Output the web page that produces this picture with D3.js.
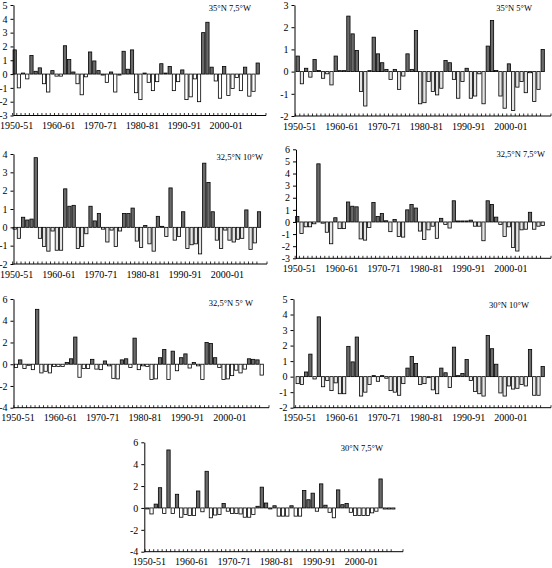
<!DOCTYPE html>
<html><head><meta charset="utf-8">
<script src="https://cdn.jsdelivr.net/npm/d3@7/dist/d3.min.js"></script>
<style>body{margin:0;background:#fff}svg text{font-family:"Liberation Serif","Times New Roman",serif}</style>
</head><body>
<svg id="chart" width="552" height="568"></svg>
<script>
// ---------- DATA ----------
const seasons = d3.range(1950, 2009).map(y => `${y}-${String((y + 1) % 100).padStart(2, "0")}`);
const tickLabels = ["1950-51", "1960-61", "1970-71", "1980-81", "1990-91", "2000-01"];
const stationNames = ["35°N 7,5°W", "35°N 5°W", "32,5°N 10°W", "32,5°N 7,5°W", "32,5°N 5° W", "30°N 10°W", "30°N 7,5°W"];

const s35N_75W = [1.75,-1.0,0,-0.35,1.35,0.2,0.45,-0.7,-1.3,0.25,-0.15,-0.15,2.05,1.05,0.15,-0.7,-1.5,-0.2,1.6,0.95,0.25,-0.05,-0.6,0.15,-1.3,-0.05,1.65,0.35,1.75,-1.35,-1.85,0.05,-0.6,-1.2,-0.55,0.75,0.05,0.55,-1.2,-0.55,0.3,-1.85,-1.65,-0.35,-2.0,3.0,3.75,0.5,-0.5,-1.75,0.55,-1.55,-1.05,-0.25,-1.2,0.5,-1.6,-1.25,0.8];
const s35N_5W = [0.7,-0.55,0.15,-0.25,0.55,0.05,-0.3,-0.1,-0.6,0.7,0,0,2.5,1.7,0.95,-0.9,-1.55,0,1.55,0.8,0.4,0.1,-0.35,0.1,-0.8,-0.2,0.8,0.1,1.85,-1.45,-1.4,-0.45,-0.9,-1.05,-0.75,0.5,0.4,-0.35,-1.2,-0.45,0.15,-1.2,-1.1,-0.1,-1.45,1.15,2.3,0.05,-1.1,-1.65,0.35,-1.75,-0.7,-0.45,-0.95,-0.05,-1.35,-0.8,1.0];
const s325N_10W = [-0.1,-0.6,0.55,0.4,0.45,3.8,-0.6,-1.05,-1.3,-0.2,-1.25,-1.25,2.1,1.15,1.2,-1.15,-1.05,-0.35,1.15,0.35,0.75,-0.1,-0.8,-0.15,-1.05,-0.2,0.75,0.75,1.05,-0.75,-1.1,0.1,-0.9,-1.3,0.6,0.05,-0.5,2.15,-0.7,-0.5,0.85,-1.15,-0.95,-0.9,-1.45,3.5,2.45,0.85,-0.7,-1.15,-0.15,-0.7,-0.8,-0.65,-0.6,0.95,-1.2,-0.85,0.85];
const s325N_75W = [0.45,-0.95,-0.4,-0.4,-0.15,4.8,-0.1,-0.85,-1.8,0.35,-0.55,-0.55,1.65,1.3,1.25,-1.4,-1.5,-0.45,1.6,0.45,0.7,0.1,-0.8,0.2,-1.2,-1.25,1.0,1.45,1.15,-0.75,-1.45,-0.65,-0.35,-1.35,0.3,-0.2,-0.5,1.75,0.05,0.05,0.05,0.15,-0.35,-0.35,-1.55,1.75,1.45,0.4,-0.2,-1.2,-0.4,-2.1,-2.4,-0.65,-0.6,0.8,-0.6,-0.35,-0.3];
const s325N_5W = [-0.3,0.4,-0.4,-0.1,-0.5,5.05,-0.8,-0.65,-0.8,-0.2,-0.2,-0.2,0.15,0.5,2.5,-1.2,-0.4,-0.4,0.45,-0.45,-0.5,0.3,-0.15,-1.3,-1.35,0.4,0.5,-0.3,2.4,-0.5,-0.15,-0.2,-1.4,-1.35,0.6,1.35,-1.4,1.2,-0.6,0.6,0.95,-0.35,0.15,-0.15,-1.4,2.0,1.9,0.6,-0.3,-1.4,-1.35,-1.05,-0.55,-0.8,-0.45,0.5,0.45,0.4,-1.0];
const s30N_10W = [-0.45,-0.5,0.3,1.45,-0.15,3.85,-0.65,-0.25,-0.9,-0.4,-1.1,-1.1,1.95,0.95,2.55,-1.25,-1.0,-0.5,0.05,-0.3,0.05,-0.1,-0.9,-1.0,-1.2,-0.45,0.55,1.3,0.85,-0.5,-0.45,-0.05,-0.85,-1.1,0.55,0.25,-0.7,1.9,0.05,0.2,1.1,-0.25,-0.95,-1.1,-1.25,2.65,1.8,0.8,-1.05,-1.25,-0.6,-0.8,-0.75,-0.5,-0.6,1.75,-1.2,-1.2,0.65];
const s30N_75W = [-0.05,-0.55,0.35,1.85,-0.5,5.3,-0.5,1.25,-0.85,-0.6,-0.7,-0.7,1.55,-0.35,3.35,-0.9,-0.65,-0.6,0.4,-0.3,-0.5,-0.5,-0.55,-0.85,-0.85,-0.6,0.15,1.9,0.45,-0.05,0.2,-0.75,-0.75,-0.75,0.2,-0.75,-0.75,1.6,0.75,1.35,-0.3,2.2,0.25,-0.4,-0.9,1.65,0.3,0.4,-0.4,-0.7,-0.7,-0.7,-0.7,-0.45,-0.3,2.65,-0.1,-0.1,-0.1];

const seriesList = [s35N_75W, s35N_5W, s325N_10W, s325N_75W, s325N_5W, s30N_10W, s30N_75W];
const yDomains = [[-3,5],[-2,3],[-2,4],[-3,6],[-4,6],[-2,5],[-4,6]];
const yTickSteps = [1,1,1,1,2,1,2];

// ---------- LAYOUT ----------
const layout = [
  {ax:13.5, x1:266, yTop:5,     yBot:115.5, b0:14.7,  bN:257.7, negFill:"#ffffff", tx:251, ty:10.5},
  {ax:294.5,x1:551, yTop:5,     yBot:116,   b0:297.7, bN:542.7, negFill:"#e4e4e4", tx:532, ty:10.5},
  {ax:13.5, x1:267, yTop:154,   yBot:264,   b0:14.7,  bN:259,   negFill:"#e4e4e4", tx:263, ty:160},
  {ax:296,  x1:551, yTop:149.3, yBot:258.3, b0:297.3, bN:542.7, negFill:"#e4e4e4", tx:545, ty:157},
  {ax:13.5, x1:269, yTop:299,   yBot:407.7, b0:16,    bN:261.7, negFill:"#ffffff", tx:253, ty:306},
  {ax:293.5,x1:551, yTop:299,   yBot:407.7, b0:297.7, bN:542.7, negFill:"#e8e8e8", tx:529, ty:308},
  {ax:144.3,x1:403, yTop:442.3, yBot:551.7, b0:147.3, bN:393.3, negFill:"#ffffff", tx:383, ty:451}
];

const svg = d3.select("#chart");
const fmt = d => String(d);

seriesList.forEach((vals, i) => {
  const L = layout[i];
  const g = svg.append("g");
  const step = (L.bN - L.b0) / (seasons.length - 1);
  const x = d3.scaleBand().domain(seasons)
    .range([L.b0 - step / 2, L.bN + step / 2]).paddingInner(0.22).paddingOuter(0.11);
  const y = d3.scaleLinear().domain(yDomains[i]).range([L.yBot, L.yTop]);
  const data = seasons.map((s, k) => ({s, v: vals[k]}));

  // bars
  g.selectAll("rect").data(data).enter().append("rect")
    .attr("x", d => x(d.s))
    .attr("width", x.bandwidth())
    .attr("y", d => d.v >= 0 ? Math.min(y(d.v), y(0) - 1) : y(0))
    .attr("height", d => Math.max(Math.abs(y(d.v) - y(0)), 1))
    .attr("fill", d => d.v > 0 ? "#6a6a6a" : L.negFill)
    .attr("stroke", "#000").attr("stroke-width", 0.8);

  // y axis
  const ya = d3.axisLeft(y)
    .tickValues(d3.range(yDomains[i][0], yDomains[i][1] + 0.001, yTickSteps[i]))
    .tickFormat(fmt).tickSize(3).tickSizeOuter(0).tickPadding(3);
  const yg = g.append("g").attr("transform", `translate(${L.ax},0)`).call(ya);
  yg.selectAll("text").attr("font-size", 10).attr("fill", "#000")
    .style("font-family", '"Liberation Serif",serif');
  yg.selectAll("line,path").attr("stroke", "#000");

  // x axis line + minor ticks
  g.append("line").attr("x1", L.ax).attr("x2", L.x1)
    .attr("y1", L.yBot).attr("y2", L.yBot).attr("stroke", "#000");
  const tickXs = seasons.map(s => x(s) - x.step() * x.paddingInner() / 2);
  tickXs.push(L.x1);
  g.selectAll("line.xt").data(tickXs).enter().append("line").attr("class", "xt")
    .attr("x1", d => d).attr("x2", d => d)
    .attr("y1", L.yBot).attr("y2", L.yBot - 2.5).attr("stroke", "#000").attr("stroke-width", 0.8);

  // x labels
  g.selectAll("text.xl").data(tickLabels).enter().append("text").attr("class", "xl")
    .attr("x", d => x(d) + x.bandwidth() / 2 + 2)
    .attr("y", L.yBot + 13.5)
    .attr("text-anchor", "middle").attr("font-size", 10).text(d => d);

  // station label
  g.append("text").attr("x", L.tx).attr("y", L.ty)
    .attr("text-anchor", "end").attr("font-size", 8.5).text(stationNames[i]);
});
</script>
</body></html>
